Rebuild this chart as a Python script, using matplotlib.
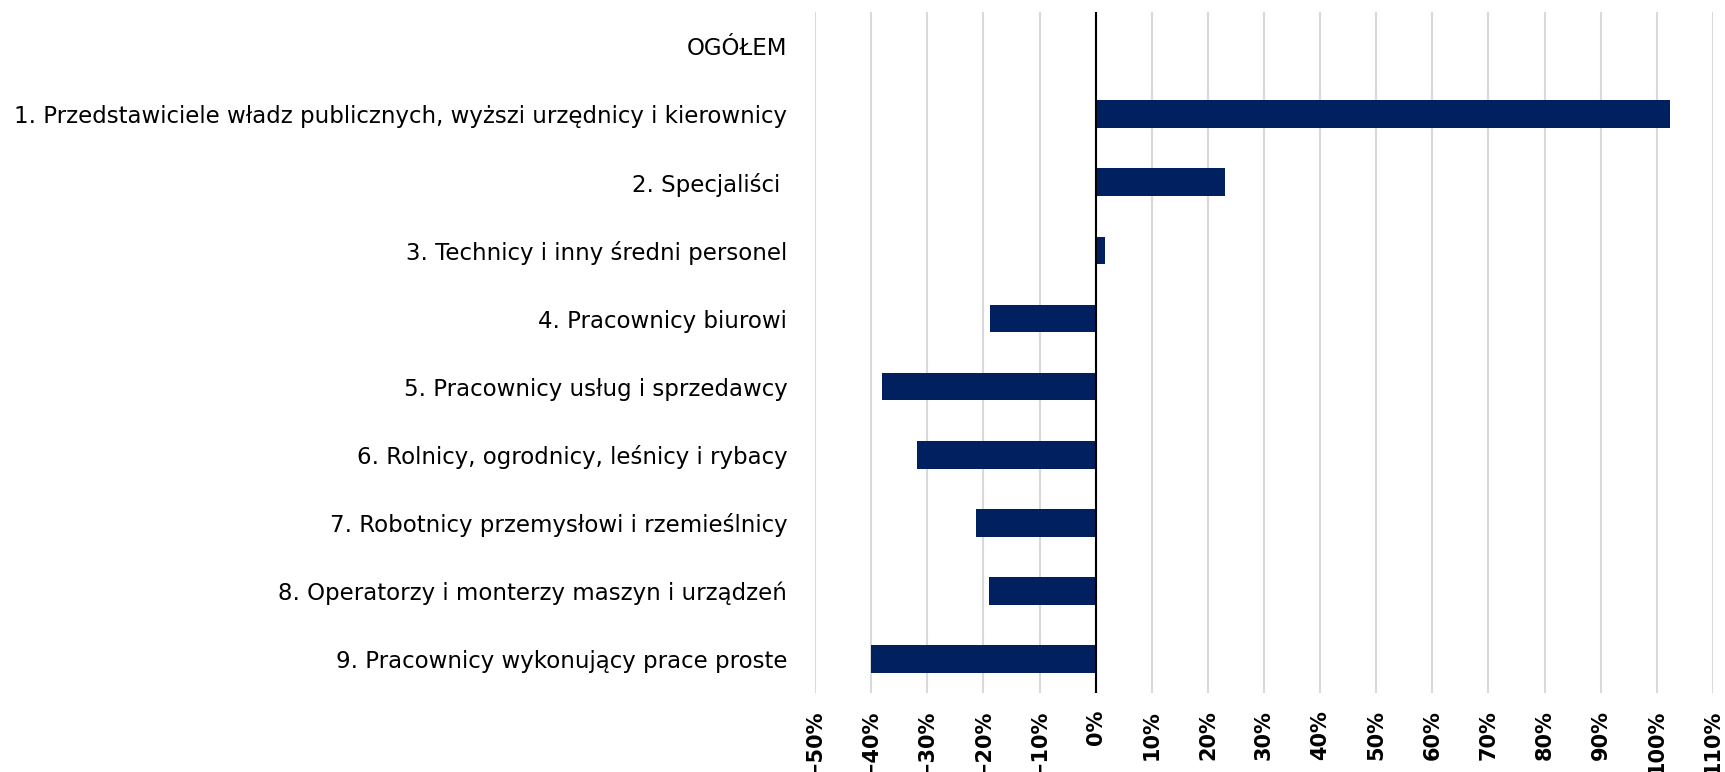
import matplotlib
matplotlib.use("Agg")
import matplotlib.pyplot as plt
from matplotlib.ticker import FuncFormatter, MultipleLocator

categories = [
    "OGÓŁEM",
    "1. Przedstawiciele władz publicznych, wyższi urzędnicy i kierownicy",
    "2. Specjaliści ",
    "3. Technicy i inny średni personel",
    "4. Pracownicy biurowi",
    "5. Pracownicy usług i sprzedawcy",
    "6. Rolnicy, ogrodnicy, leśnicy i rybacy",
    "7. Robotnicy przemysłowi i rzemieślnicy",
    "8. Operatorzy i monterzy maszyn i urządzeń",
    "9. Pracownicy wykonujący prace proste",
]
values = [0.0, 102.4, 23.0, 1.6, -18.9, -38.0, -31.9, -21.4, -19.0, -40.1]

fig = plt.figure(figsize=(17.25, 7.72), dpi=100)
ax = fig.add_axes([0.4725, 0.1023, 0.5205, 0.882])

y = list(range(len(categories)))
ax.barh(y, values, height=0.407, color="#002060", zorder=3)
ax.set_ylim(len(categories) - 0.5, -0.5)
ax.set_xlim(-50, 110)
ax.xaxis.set_major_locator(MultipleLocator(10))
ax.xaxis.set_major_formatter(FuncFormatter(lambda v, p: f"{int(round(v))}%".replace("-", "\u2212")))
ax.grid(axis="x", color="#d9d9d9", linewidth=1.5, zorder=0)
ax.axvline(0, color="black", linewidth=1.5, zorder=4)
for s in ax.spines.values():
    s.set_visible(False)

ax.set_yticks(y)
ax.set_yticklabels(categories, fontsize=16.5, family="DejaVu Sans")
ax.tick_params(axis="y", length=0, pad=20)
ax.tick_params(axis="x", length=0, pad=12, labelsize=15, labelrotation=90)
for t in ax.get_xticklabels():
    t.set_family("DejaVu Sans")
    t.set_fontweight("bold")

fig.savefig("out.png", dpi=100)
